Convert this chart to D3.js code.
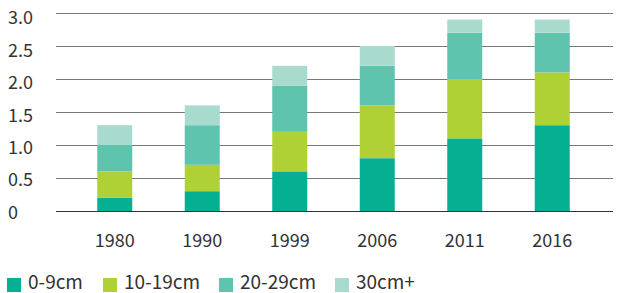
<!DOCTYPE html>
<html>
<head>
<meta charset="utf-8">
<script src="https://cdn.jsdelivr.net/npm/d3@7"></script>
<style>
  body { margin: 0; background: #fff; }
  text { font-family: "Noto Sans CJK SC", "Noto Sans", sans-serif; fill: #333; }
</style>
</head>
<body>
<div class="svg-container"></div>
<script>
var width = 619;
var height = 293;

// data
var years = ["1980", "1990", "1999", "2006", "2011", "2016"];
var seriesNames = ["0-9cm", "10-19cm", "20-29cm", "30cm+"];
var size0to9 = [0.2, 0.3, 0.6, 0.8, 1.1, 1.3];
var size10to19 = [0.4, 0.4, 0.6, 0.8, 0.9, 0.8];
var size20to29 = [0.4, 0.6, 0.7, 0.6, 0.7, 0.6];
var size30plus = [0.3, 0.3, 0.3, 0.3, 0.2, 0.2];
var yTicks = [0, 0.5, 1, 1.5, 2, 2.5, 3];
var colors = ["#05b092", "#b0d135", "#5ec4ae", "#a8dace"];

var rows = years.map(function(y, i) {
    return { year: y, "0-9cm": size0to9[i], "10-19cm": size10to19[i],
             "20-29cm": size20to29[i], "30cm+": size30plus[i] };
});

var svg = d3.select(".svg-container")
              .append("svg")
              .attr("width", width)
              .attr("height", height);

// scales
var scaleX = d3.scaleBand()
            .domain(years)
            .range([71, 596])
            .paddingInner(0.6)
            .paddingOuter(0.3);

var scaleY = d3.scaleLinear()
            .domain([0, 3])
            .range([211, 13]);

// labels sit a little below their gridlines
var labelY = d3.scaleLinear()
            .domain([0, 3])
            .range([214, 19.5]);

var color = d3.scaleOrdinal().domain(seriesNames).range(colors);

// gridlines
svg.append("g")
    .selectAll("line")
    .data(yTicks)
    .enter()
    .append("line")
    .attr("x1", 56)
    .attr("x2", 613)
    .attr("y1", function(d) { return Math.round(scaleY(d)) + 0.5; })
    .attr("y2", function(d) { return Math.round(scaleY(d)) + 0.5; })
    .attr("stroke", function(d) { return d === 0 ? "#333" : "#777"; })
    .attr("stroke-width", 1);

// y labels
svg.append("g")
    .selectAll("text")
    .data(yTicks)
    .enter()
    .append("text")
    .attr("x", 8)
    .attr("y", function(d) { return labelY(d); })
    .attr("dominant-baseline", "middle")
    .style("font-size", "18px")
    .text(function(d) { return d === 0 ? "0" : d3.format(".1f")(d); });

// stacked bars
var stack = d3.stack().keys(seriesNames);

svg.append("g")
    .selectAll("g")
    .data(stack(rows))
    .enter()
    .append("g")
    .attr("fill", function(d) { return color(d.key); })
    .selectAll("rect")
    .data(function(d) { return d; })
    .enter()
    .append("rect")
    .attr("x", function(d) { return scaleX(d.data.year); })
    .attr("width", scaleX.bandwidth())
    .attr("y", function(d) { return scaleY(d[1]); })
    .attr("height", function(d) { return scaleY(d[0]) - scaleY(d[1]); });

// x labels
svg.append("g")
    .selectAll("text")
    .data(years)
    .enter()
    .append("text")
    .attr("x", function(d) { return scaleX(d) + scaleX.bandwidth() / 2; })
    .attr("y", 247)
    .attr("text-anchor", "middle")
    .style("font-size", "18px")
    .text(function(d) { return d; });

// legend
var legendX = [7, 103, 219, 335];
var legend = svg.append("g")
    .selectAll("g")
    .data(seriesNames)
    .enter()
    .append("g")
    .attr("transform", function(d, i) { return "translate(" + legendX[i] + ",0)"; });

legend.append("rect")
    .attr("y", 278)
    .attr("width", 14)
    .attr("height", 14)
    .attr("fill", function(d) { return color(d); });

legend.append("text")
    .attr("x", 21)
    .attr("y", 289)
    .style("font-size", "19px")
    .text(function(d) { return d; });
</script>
</body>
</html>
